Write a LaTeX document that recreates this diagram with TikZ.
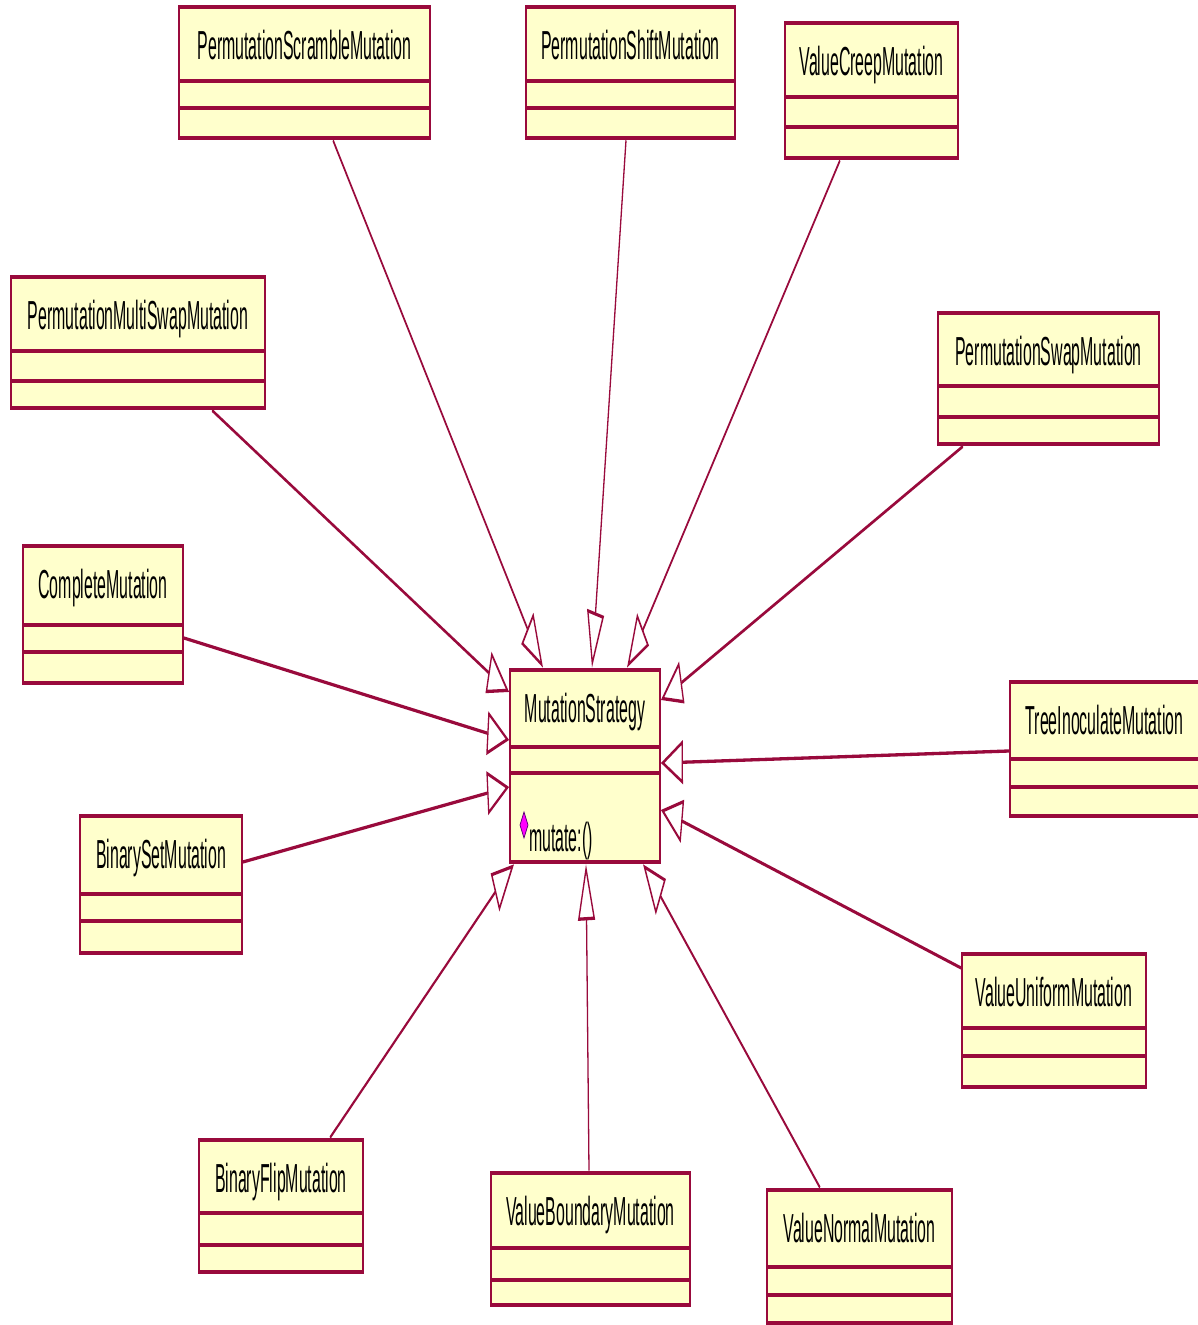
\documentclass[tikz,border=0pt]{standalone}
\usepackage{fontspec}
\setmainfont{Liberation Sans}
\usetikzlibrary{arrows.meta,calc,fit}

\definecolor{roseline}{RGB}{153,10,60}
\definecolor{rosefill}{RGB}{255,255,204}
\definecolor{opicon}{RGB}{255,0,255}
\definecolor{opedge}{RGB}{90,0,120}

% UML class: name, x1, y1, x2, y2, first divider, second divider, title
\newcommand\umlclassbox[8]{%
  \node[classframe, fit={(#2,#3) (#4,#5)}] (#1) {};
  \draw[compartment] (#2,#6) -- (#4,#6);
  \draw[compartment] (#2,#7) -- (#4,#7);
  \node[classname] (#1-name) at ($(#1.north)+(0,55)$) {#8};
}

\begin{document}
\begin{tikzpicture}[x=1pt,y=-1pt]
\fill[white] (0,0) rectangle (1197,1325);
\useasboundingbox (0,0) rectangle (1197,1325);

% everything is drawn in a flattened frame and stretched vertically
\begin{scope}[transform canvas={yscale=2.55}, y={(0pt,-0.392157pt)},
  classframe/.style={draw=roseline, fill=rosefill, line width=1.8pt, inner sep=0pt},
  compartment/.style={draw=roseline, line width=1.8pt},
  classname/.style={anchor=base, inner sep=0pt, font=\fontsize{15.9}{19}\selectfont},
  gen/.style={draw=roseline, line width=1.3pt, -{Triangle[open, length=22pt, width=17pt]}}]

  % the strategy interface
  \umlclassbox{ms}{510}{670}{660}{862}{747}{773}{MutationStrategy}
  \filldraw[fill=opicon, draw=opedge, line width=0.6pt]
    (524,812) -- (528,825) -- (524,838) -- (520,825) -- cycle;
  \node[anchor=base west, inner sep=0pt, font=\fontsize{15.9}{19}\selectfont]
    (ms-op) at (529,852) {mutate:()};

  % concrete mutations
  \umlclassbox{scramble}{179}{7}{430}{138}{81}{108}{PermutationScrambleMutation}
  \umlclassbox{shift}{526}{7}{735}{138}{81}{108}{PermutationShiftMutation}
  \umlclassbox{creep}{785}{23}{958}{158}{97}{127}{ValueCreepMutation}
  \umlclassbox{multiswap}{11}{277}{265}{408}{351}{381}{PermutationMultiSwapMutation}
  \umlclassbox{permswap}{938}{313}{1159}{444}{386}{417}{PermutationSwapMutation}
  \umlclassbox{complete}{23}{546}{183}{683}{625}{652}{CompleteMutation}
  \umlclassbox{treeinoc}{1010}{682}{1199}{816}{759}{787}{TreeInoculateMutation}
  \umlclassbox{binaryset}{80}{816}{242}{953}{894}{921}{BinarySetMutation}
  \umlclassbox{uniform}{962}{954}{1146}{1087}{1028}{1056}{ValueUniformMutation}
  \umlclassbox{binaryflip}{199}{1140}{363}{1272}{1213}{1245}{BinaryFlipMutation}
  \umlclassbox{boundary}{491}{1173}{690}{1305}{1248}{1280}{ValueBoundaryMutation}
  \umlclassbox{normal}{767}{1190}{952}{1323}{1267}{1295}{ValueNormalMutation}

  % generalization arrows
  \draw[gen] ($(scramble.south)+(28.5,0)$) -- ($(ms.north)+(-42,0)$);
  \draw[gen] ($(shift.south)+(-4.5,0)$) -- ($(ms.north)+(7,0)$);
  \draw[gen] ($(creep.south)+(-31.5,0)$) -- ($(ms.north)+(42,0)$);
  \draw[gen] ($(multiswap.south)+(74,0)$) -- ($(ms.west)+(0,-74)$);
  \draw[gen] ($(complete.east)+(0,23.5)$) -- ($(ms.west)+(0,-26)$);
  \draw[gen] ($(binaryset.east)+(0,-22.5)$) -- ($(ms.west)+(0,21)$);
  \draw[gen] ($(binaryflip.north)+(49,0)$) -- ($(ms.south)+(-71,0)$);
  \draw[gen] ($(boundary.north)+(-1.5,0)$) -- ($(ms.south)+(1,0)$);
  \draw[gen] ($(normal.north)+(-39.5,0)$) -- ($(ms.south)+(58,0)$);
  \draw[gen] ($(uniform.west)+(0,-52.5)$) -- ($(ms.east)+(0,44)$);
  \draw[gen] ($(treeinoc.west)+(0,2)$) -- ($(ms.east)+(0,-3)$);
  \draw[gen] ($(permswap.south)+(-85.5,0)$) -- ($(ms.east)+(0,-66)$);
\end{scope}
\end{tikzpicture}
\end{document}
